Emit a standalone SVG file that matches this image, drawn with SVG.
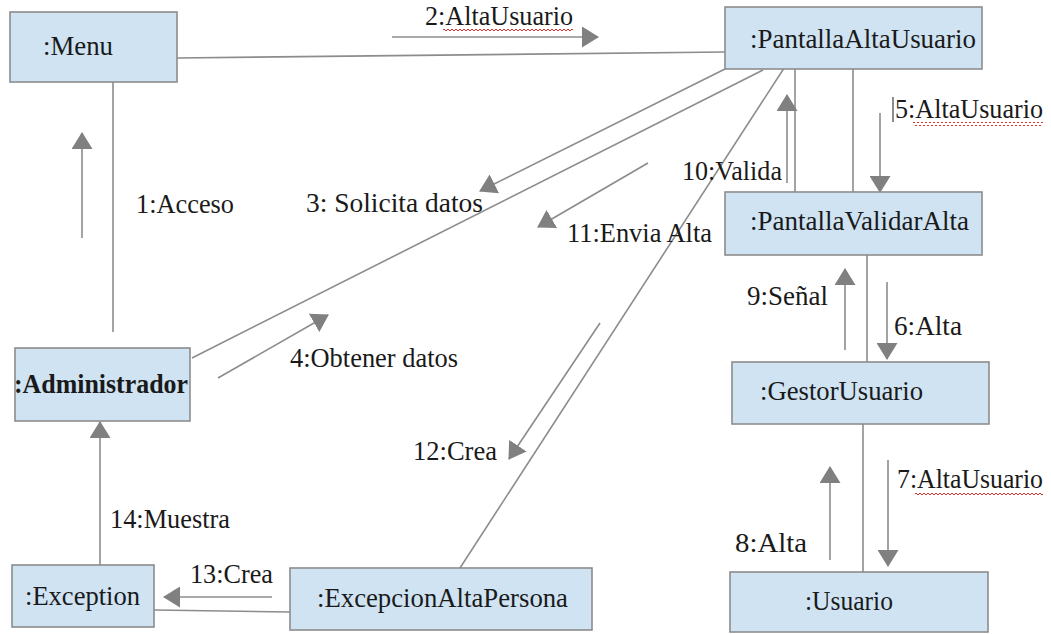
<svg xmlns="http://www.w3.org/2000/svg" width="1051" height="634" viewBox="0 0 1051 634">
  <style>
    .box { fill: #cfe3f3; stroke: #8c8c8c; stroke-width: 1.6; }
    .name { font-family: "Liberation Serif", "Times New Roman", serif; font-size: 27px; fill: #1a1a1a; }
    .bold { font-weight: bold; }
    .link { stroke: #8c8c8c; stroke-width: 1.6; fill: none; }
    .msg { stroke: #8c8c8c; stroke-width: 1.6; fill: none; marker-end: url(#head); }
    .lbl { font-family: "Liberation Serif", "Times New Roman", serif; font-size: 26.5px; fill: #1a1a1a; }
    .squiggle { stroke: #e03030; stroke-width: 1; fill: none; }
  </style>
  <defs>
    <marker id="head" viewBox="0 0 17 21" refX="16" refY="10.5" markerWidth="17" markerHeight="21" markerUnits="userSpaceOnUse" orient="auto">
      <path d="M0,0 L17,10.5 L0,21 Z" fill="#808080"/>
    </marker>
    <!-- wavy spell-check underline, repeated along a strip -->
    <pattern id="wave" width="4" height="4" patternUnits="userSpaceOnUse">
      <path d="M0,1 L2,3 L4,1" stroke="#e03030" stroke-width="1" fill="none"/>
    </pattern>
  </defs>
  <rect width="1051" height="634" fill="#ffffff"/>

  <!-- associations and messages -->
  <g id="connectors">
    <line class="link" x1="177" y1="58" x2="725" y2="52"/>
    <line class="link" x1="113" y1="82" x2="113" y2="332"/>
    <line class="link" x1="192" y1="358" x2="763" y2="70"/>
    <line class="link" x1="788" y1="62" x2="460" y2="568"/>
    <line class="link" x1="795" y1="69" x2="795" y2="192"/>
    <line class="link" x1="853" y1="69" x2="853" y2="192"/>
    <line class="link" x1="867" y1="255" x2="867" y2="362"/>
    <line class="link" x1="863" y1="424" x2="863" y2="572"/>
    <line class="link" x1="154" y1="610" x2="290" y2="612"/>

    <!-- 1:Acceso -->
    <line class="msg" x1="82" y1="238" x2="82" y2="133"/>
    <!-- 2:AltaUsuario -->
    <line class="msg" x1="392" y1="37" x2="598" y2="37"/>
    <!-- 3: Solicita datos -->
    <line class="msg" x1="725" y1="69" x2="480" y2="191"/>
    <!-- 4:Obtener datos -->
    <line class="msg" x1="218" y1="378" x2="328" y2="315"/>
    <!-- 5:AltaUsuario -->
    <line class="msg" x1="880" y1="113" x2="880" y2="192"/>
    <!-- 6:Alta -->
    <line class="msg" x1="887" y1="282" x2="887" y2="359"/>
    <!-- 7:AltaUsuario -->
    <line class="msg" x1="888" y1="460" x2="888" y2="566"/>
    <!-- 8:Alta -->
    <line class="msg" x1="830" y1="560" x2="830" y2="467"/>
    <!-- 9:Señal -->
    <line class="msg" x1="845" y1="350" x2="845" y2="269"/>
    <!-- 10:Valida -->
    <line class="msg" x1="787" y1="183" x2="787" y2="95"/>
    <!-- 11:Envia Alta -->
    <line class="msg" x1="648" y1="163" x2="538" y2="227"/>
    <!-- 12:Crea -->
    <line class="msg" x1="600" y1="323" x2="509" y2="459"/>
    <!-- 13:Crea -->
    <line class="msg" x1="272" y1="597" x2="164" y2="597"/>
    <!-- 14:Muestra -->
    <line class="msg" x1="100" y1="565" x2="100" y2="422"/>
  </g>

  <!-- message labels -->
  <g id="labels">
    <text class="lbl" x="136" y="213" textLength="98" lengthAdjust="spacingAndGlyphs">1:Acceso</text>
    <text class="lbl" x="425" y="25" textLength="148" lengthAdjust="spacingAndGlyphs">2:AltaUsuario</text>
    <rect x="443" y="28" width="130" height="4" fill="url(#wave)"/>
    <text class="lbl" x="306" y="212" textLength="177" lengthAdjust="spacingAndGlyphs">3: Solicita datos</text>
    <text class="lbl" x="290" y="367" textLength="168" lengthAdjust="spacingAndGlyphs">4:Obtener datos</text>
    <line x1="893" y1="97" x2="893" y2="122" stroke="#1a1a1a" stroke-width="1"/>
    <text class="lbl" x="895" y="118" textLength="148" lengthAdjust="spacingAndGlyphs">5:AltaUsuario</text>
    <rect x="913" y="122" width="130" height="4" fill="url(#wave)"/>
    <text class="lbl" x="894" y="335" textLength="68" lengthAdjust="spacingAndGlyphs">6:Alta</text>
    <text class="lbl" x="897" y="488" textLength="146" lengthAdjust="spacingAndGlyphs">7:AltaUsuario</text>
    <rect x="915" y="492" width="128" height="4" fill="url(#wave)"/>
    <text class="lbl" x="735" y="552" textLength="72" lengthAdjust="spacingAndGlyphs">8:Alta</text>
    <text class="lbl" x="747" y="305" textLength="81" lengthAdjust="spacingAndGlyphs">9:Señal</text>
    <text class="lbl" x="682" y="180" textLength="100" lengthAdjust="spacingAndGlyphs">10:Valida</text>
    <text class="lbl" x="567" y="242" textLength="145" lengthAdjust="spacingAndGlyphs">11:Envia Alta</text>
    <text class="lbl" x="413" y="460" textLength="84" lengthAdjust="spacingAndGlyphs">12:Crea</text>
    <text class="lbl" x="190" y="583" textLength="83" lengthAdjust="spacingAndGlyphs">13:Crea</text>
    <text class="lbl" x="110" y="528" textLength="120" lengthAdjust="spacingAndGlyphs">14:Muestra</text>
  </g>

  <!-- objects -->
  <g id="menu">
    <rect class="box" x="10" y="12" width="167" height="70"/>
    <text class="name" x="43" y="55" textLength="70" lengthAdjust="spacingAndGlyphs">:Menu</text>
  </g>
  <g id="pantalla-alta-usuario">
    <rect class="box" x="725" y="7" width="257" height="62"/>
    <text class="name" x="750" y="48" textLength="226" lengthAdjust="spacingAndGlyphs">:PantallaAltaUsuario</text>
  </g>
  <g id="pantalla-validar-alta">
    <rect class="box" x="725" y="192" width="257" height="63"/>
    <text class="name" x="750" y="230" textLength="219" lengthAdjust="spacingAndGlyphs">:PantallaValidarAlta</text>
  </g>
  <g id="gestor-usuario">
    <rect class="box" x="732" y="362" width="257" height="62"/>
    <text class="name" x="760" y="400" textLength="163" lengthAdjust="spacingAndGlyphs">:GestorUsuario</text>
  </g>
  <g id="usuario">
    <rect class="box" x="730" y="572" width="258" height="60"/>
    <text class="name" x="805" y="610" textLength="88" lengthAdjust="spacingAndGlyphs">:Usuario</text>
  </g>
  <g id="administrador">
    <rect class="box" x="15" y="348" width="175" height="73"/>
    <text class="name bold" x="14" y="393" textLength="174" lengthAdjust="spacingAndGlyphs">:Administrador</text>
  </g>
  <g id="exception">
    <rect class="box" x="12" y="565" width="142" height="62"/>
    <text class="name" x="25" y="605" textLength="115" lengthAdjust="spacingAndGlyphs">:Exception</text>
  </g>
  <g id="excepcion-alta-persona">
    <rect class="box" x="290" y="568" width="302" height="62"/>
    <text class="name" x="317" y="607" textLength="251" lengthAdjust="spacingAndGlyphs">:ExcepcionAltaPersona</text>
  </g>
</svg>
